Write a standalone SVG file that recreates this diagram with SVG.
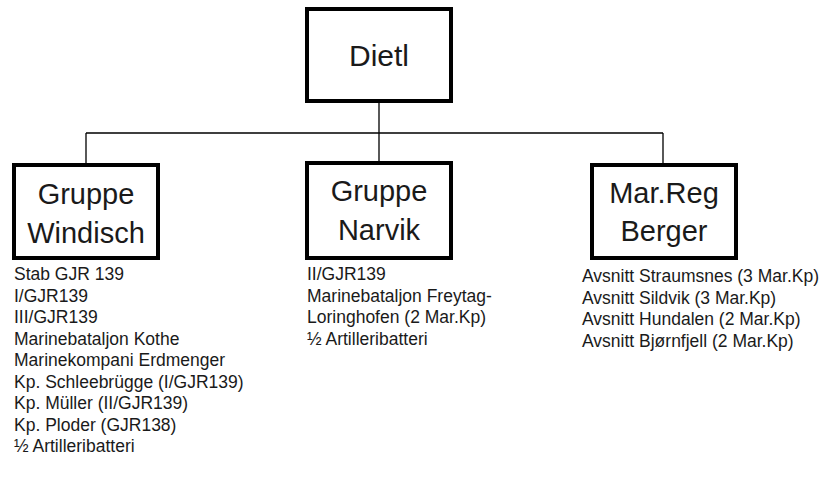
<svg xmlns="http://www.w3.org/2000/svg" width="830" height="482" viewBox="0 0 830 482">
<style>
.box{fill:#fff;stroke:#000;stroke-width:4}
.lbl{font-family:"Liberation Sans",Arial,sans-serif;font-size:29px;fill:#1a1a1a;text-anchor:middle}
.lst{font-family:"Liberation Sans",Arial,sans-serif;font-size:17.5px;fill:#1a1a1a}
.con{stroke:#000;stroke-width:1.3;fill:none}
</style>
<rect width="830" height="482" fill="#fff"/>
<g id="connectors">
<path class="con" d="M379 101V163M86 133H663M86 133V165M663 133V165"/>
</g>
<g id="dietl">
<rect class="box" x="307" y="9" width="144" height="92"/>
<text class="lbl" x="379" y="66" style="font-size:30px">Dietl</text>
</g>
<g id="windisch">
<rect class="box" x="14" y="165" width="144" height="93"/>
<text class="lbl" x="86" y="204">Gruppe</text>
<text class="lbl" x="86" y="243">Windisch</text>
<text class="lst"><tspan x="14" y="280">Stab GJR 139</tspan><tspan x="14" y="301.5">I/GJR139</tspan><tspan x="14" y="323">III/GJR139</tspan><tspan x="14" y="344.5">Marinebataljon Kothe</tspan><tspan x="14" y="366">Marinekompani Erdmenger</tspan><tspan x="14" y="387.5">Kp. Schleebrügge (I/GJR139)</tspan><tspan x="14" y="409">Kp. Müller (II/GJR139)</tspan><tspan x="14" y="430.5">Kp. Ploder (GJR138)</tspan><tspan x="14" y="452">½ Artilleribatteri</tspan></text>
</g>
<g id="narvik">
<rect class="box" x="307" y="163" width="144" height="95"/>
<text class="lbl" x="379" y="201">Gruppe</text>
<text class="lbl" x="379" y="240">Narvik</text>
<text class="lst"><tspan x="307" y="280">II/GJR139</tspan><tspan x="307" y="301.5">Marinebataljon Freytag-</tspan><tspan x="307" y="323">Loringhofen (2 Mar.Kp)</tspan><tspan x="307" y="344.5">½ Artilleribatteri</tspan></text>
</g>
<g id="berger">
<rect class="box" x="592" y="165" width="144" height="93"/>
<text class="lbl" x="664" y="203">Mar.Reg</text>
<text class="lbl" x="664" y="241">Berger</text>
<text class="lst"><tspan x="582" y="282">Avsnitt Straumsnes (3 Mar.Kp)</tspan><tspan x="582" y="303.5">Avsnitt Sildvik (3 Mar.Kp)</tspan><tspan x="582" y="325">Avsnitt Hundalen (2 Mar.Kp)</tspan><tspan x="582" y="346.5">Avsnitt Bjørnfjell (2 Mar.Kp)</tspan></text>
</g>
</svg>
